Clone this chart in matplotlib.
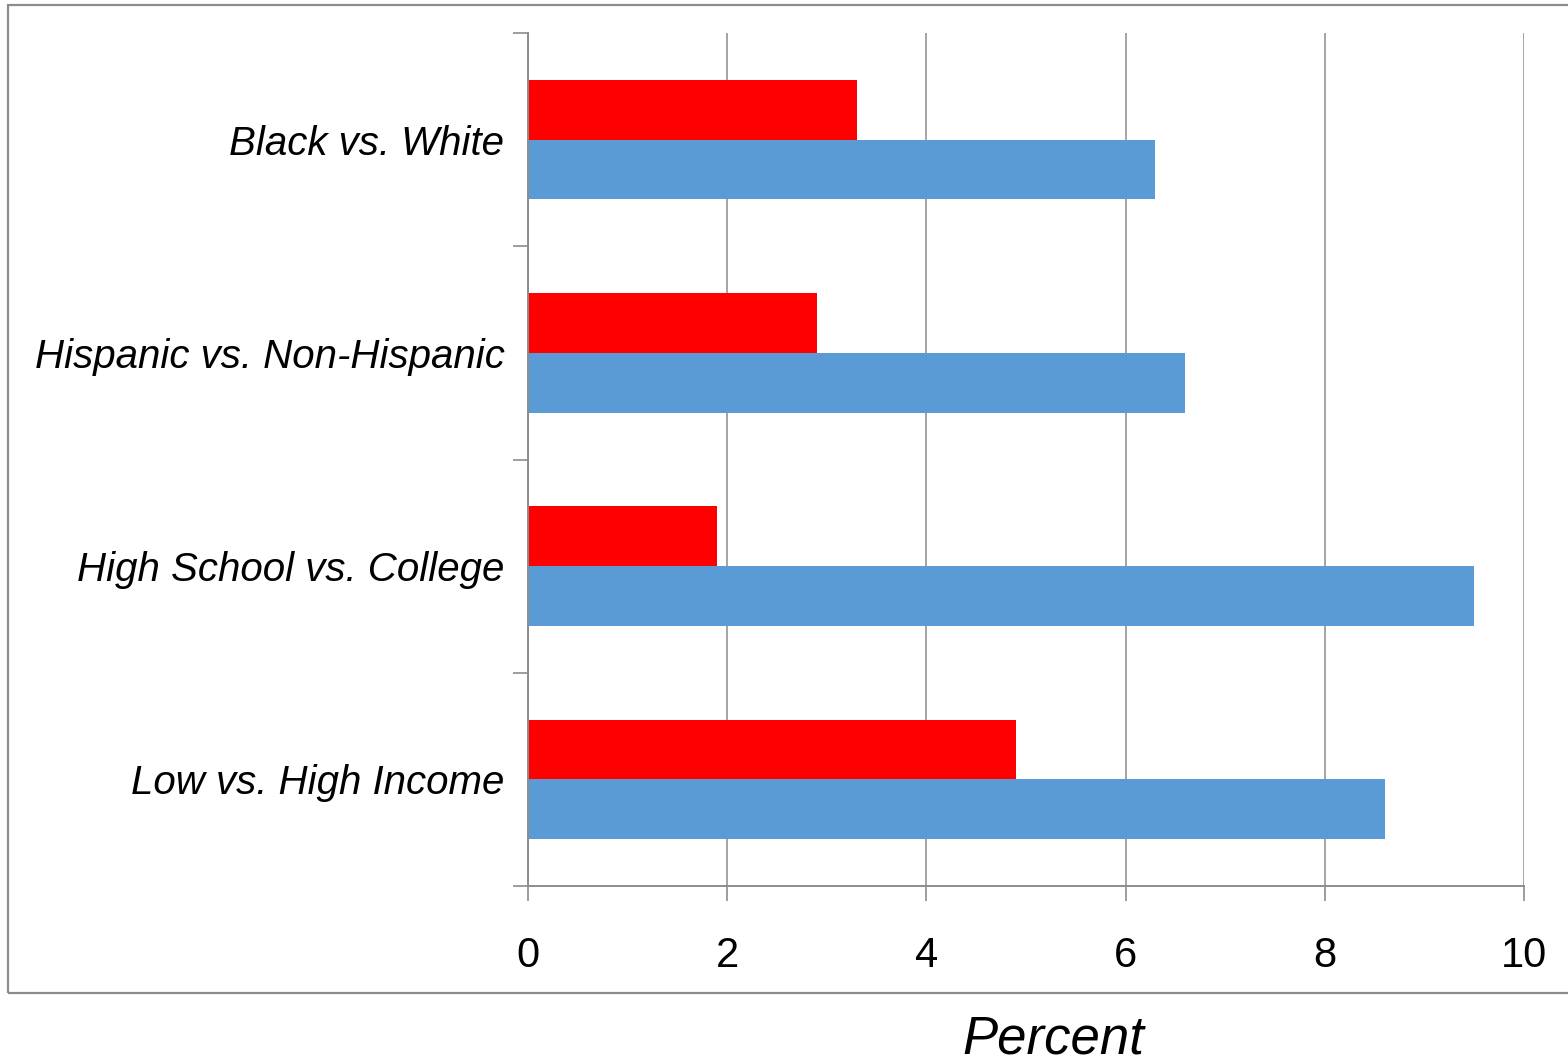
import matplotlib.pyplot as plt
from matplotlib.patches import Rectangle
from matplotlib.transforms import ScaledTranslation

categories = ["Low vs. High Income", "High School vs. College",
              "Hispanic vs. Non-Hispanic", "Black vs. White"]
red_values = [4.9, 1.9, 2.9, 3.3]
blue_values = [8.6, 9.5, 6.6, 6.3]
x_ticks = [0, 2, 4, 6, 8, 10]

GRAY = "#8c8c8c"
RED = "#ff0000"
BLUE = "#5b9bd5"


def main() -> None:
    fig = plt.figure(figsize=(15.68, 10.62), dpi=100)
    ax = fig.add_axes([528 / 1568, 1 - 886 / 1062, (1524 - 528) / 1568, (886 - 33) / 1062])

    bar_h = 0.28
    centers = [i + 0.5 for i in range(len(categories))]
    ax.barh(centers, red_values, height=bar_h, align="edge", color=RED, zorder=3)
    ax.barh([c - bar_h for c in centers], blue_values, height=bar_h, align="edge",
            color=BLUE, zorder=3)

    ax.set_xlim(0, 10)
    ax.set_ylim(0, len(categories))
    ax.set_xticks(x_ticks)
    ax.set_xticklabels([str(t) for t in x_ticks], fontsize=30, family="Liberation Sans")
    ax.set_yticks(range(len(categories) + 1))
    ax.set_yticklabels([])
    ax.set_yticks(centers, categories, minor=True)
    lift = ScaledTranslation(0, 4 / 100, fig.dpi_scale_trans)
    for lab in ax.get_yticklabels(minor=True):
        lab.set_fontsize(29)
        lab.set_fontstyle("italic")
        lab.set_family("Liberation Sans")
        lab.set_transform(lab.get_transform() + lift)

    ax.tick_params(axis="y", which="major", length=10.5, width=1.2, color=GRAY)
    ax.tick_params(axis="y", which="minor", length=0, pad=17)
    ax.tick_params(axis="x", length=11, width=1.2, color=GRAY, pad=25)

    ax.grid(axis="x", color=GRAY, linewidth=1.1, zorder=0)
    for side in ("top", "right"):
        ax.spines[side].set_visible(False)
    for side in ("left", "bottom"):
        ax.spines[side].set_color(GRAY)
        ax.spines[side].set_linewidth(1.4)
        ax.spines[side].set_zorder(4)

    # chart border, right edge falls outside the image
    border = Rectangle((8 / 1568, 1 - 993 / 1062), 1.2, (993 - 5) / 1062,
                       transform=fig.transFigure, fill=False, edgecolor=GRAY,
                       linewidth=1.6, clip_on=False)
    fig.patches.append(border)

    fig.text(1053 / 1568, 1 - 1040 / 1062, "Percent", fontsize=38, style="italic",
             family="Liberation Sans", ha="center", va="center")

    fig.savefig("out.png", dpi=100)
    plt.close(fig)


if __name__ == "__main__":
    main()
